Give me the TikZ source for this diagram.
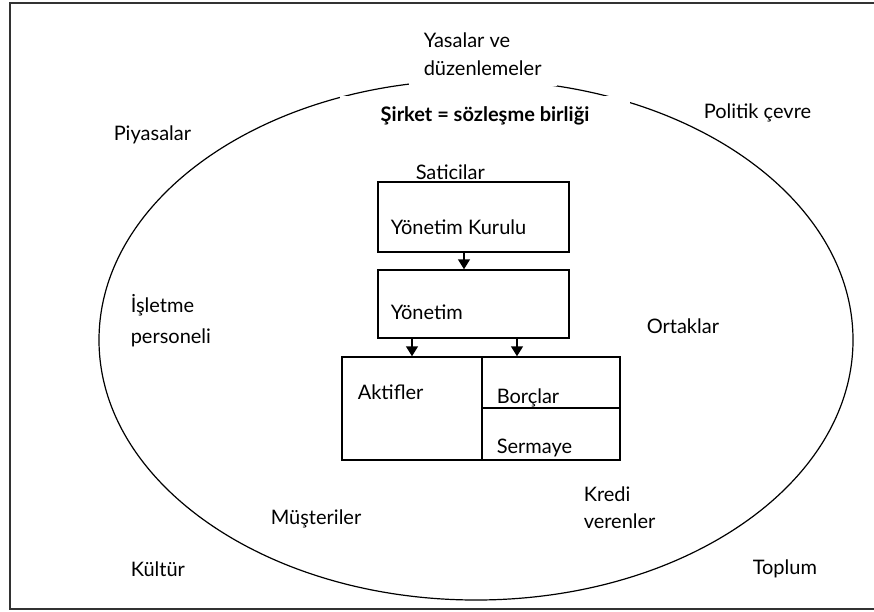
\documentclass[tikz,border=0pt]{standalone}
\usepackage{fontspec}
\setmainfont{Lato}
\usetikzlibrary{arrows.meta}
\definecolor{frame_gray}{RGB}{50,50,50}

\begin{document}
\begin{tikzpicture}[->,>={Triangle[width=12pt,length=10pt]},line width=1.5pt,x=1pt,y=-1pt,font=\fontsize{20}{24}\selectfont]
    \tikzstyle{lbl}=[anchor=west, inner sep=0pt, align=left, text=black]
    \tikzstyle{box}=[draw=black, rectangle, fill=none, inner sep=0pt]
    \tikzstyle{cover}=[fill=white, text=black, align=left]
    \useasboundingbox (0,0) rectangle (874,611);

    % frame and ring
    \draw[-, frame_gray, line width=2.5pt] (880,3) -- (10,3) -- (10,609) -- (880,609);
    \draw[-, line width=1.2pt] (476,340) ellipse [x radius=377pt, y radius=260pt];

    \node[cover, anchor=west, inner xsep=15pt, inner ysep=11pt] (law) at (408,54) {Yasalar ve\\[4pt]düzenlemeler};
    \node[cover, anchor=base, inner xsep=0pt, inner ysep=11pt, text height=14pt, minimum width=290pt] (firm) at (485,121) {\bfseries Şirket = sözleşme birliği};

    \node[lbl] (mkt)  at (113,135) {Piyasalar};
    \node[lbl] (pol)  at (703,113) {Politik çevre};
    \node[lbl] (emp)  at (130,321) {İşletme\\[7pt]personeli};
    \node[lbl] (own)  at (646,326) {Ortaklar};
    \node[lbl] (cust) at (270,519) {Müşteriler};
    \node[lbl] (cred) at (583,508) {Kredi\\[3pt]verenler};
    \node[lbl] (cult) at (130,569) {Kültür};
    \node[lbl] (soc)  at (752,569) {Toplum};
    \node[lbl] (sup)  at (415,172) {Saticilar};

    % boxes
    \node[box, minimum width=191pt, minimum height=70pt]  (kurul)   at (473.5,217)  {};
    \node[box, minimum width=191pt, minimum height=68pt]  (yon)     at (473.5,304)  {};
    \node[box, minimum width=140pt, minimum height=103pt] (aktif)   at (412,408.5)  {};
    \node[box, minimum width=138pt, minimum height=51pt]  (borc)    at (551,382.5)  {};
    \node[box, minimum width=138pt, minimum height=52pt]  (sermaye) at (551,434)    {};

    \node[lbl] (l_kurul)   at (390,227) {Yönetim Kurulu};
    \node[lbl] (l_yon)     at (390,312) {Yönetim};
    \node[lbl] (l_aktif)   at (357,392) {Aktifler};
    \node[lbl] (l_borc)    at (496,398) {Borçlar};
    \node[lbl] (l_sermaye) at (496,448) {Sermaye};

    \path
     ([xshift=-9.5pt]kurul.south) edge[] ([xshift=-9.5pt]yon.north)
     (aktif.north |- yon.south) edge[] (aktif.north)
     ([xshift=-34pt]borc.north |- yon.south) edge[] ([xshift=-34pt]borc.north)
     ;
\end{tikzpicture}
\end{document}
